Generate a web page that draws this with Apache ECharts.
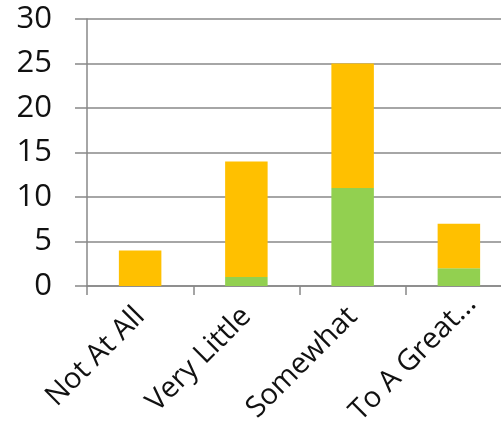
<!DOCTYPE html>
<html>
<head>
<meta charset="utf-8">
<script src="https://cdn.jsdelivr.net/npm/echarts@6/dist/echarts.min.js"></script>
<style>
  html, body { margin: 0; padding: 0; background: #fff; overflow: hidden; }
  #chart { width: 501px; height: 424px; }
</style>
</head>
<body>
<div id="chart"></div>
<script>
// Response categories along the x axis
const categories = ['Not At All', 'Very Little', 'Somewhat', 'To A Great...'];
// Stacked series: green segment at the bottom, orange on top
const greenValues = [0, 1, 11, 2];
const orangeValues = [4, 13, 14, 5];
// Value axis range
const yMin = 0;
const yMax = 30;
const yStep = 5;

const axisGray = '#888888';
const font = '"Open Sans", "DejaVu Sans", sans-serif';

// the shortened last label sits a little further along its slant
const categoryItems = categories.map((name, i) =>
  i === categories.length - 1
    ? { value: name, textStyle: { padding: [22, -18, 0, 0] } }
    : name
);

const chart = echarts.init(document.getElementById('chart'), null, { renderer: 'canvas' });
chart.setOption({
  animation: false,
  // the plot area deliberately runs past the right edge of the canvas
  grid: { left: 87, top: 19, width: 425, height: 267, containLabel: false, outerBoundsMode: 'none' },
  xAxis: {
    type: 'category',
    data: categoryItems,
    axisLine: { show: true, lineStyle: { color: axisGray, width: 1.5 } },
    axisTick: { show: true, length: 9, alignWithLabel: false, lineStyle: { color: axisGray, width: 1.5 } },
    axisLabel: {
      rotate: 45,
      interval: 0,
      margin: 26,
      padding: [17, 0, 0, 0],
      fontFamily: font,
      fontSize: 29,
      color: '#111111'
    },
    splitLine: { show: false }
  },
  yAxis: {
    type: 'value',
    min: yMin,
    max: yMax,
    interval: yStep,
    axisLine: { show: true, lineStyle: { color: axisGray, width: 1.5 } },
    axisTick: { show: true, length: 12, lineStyle: { color: axisGray, width: 1.5 } },
    axisLabel: {
      margin: 35,
      fontFamily: font,
      fontSize: 31,
      color: '#111111'
    },
    splitLine: { show: true, lineStyle: { color: axisGray, width: 1.5 } }
  },
  series: [
    {
      name: 'green',
      type: 'bar',
      stack: 'total',
      data: greenValues,
      barWidth: '40%',
      itemStyle: { color: '#92D050' }
    },
    {
      name: 'orange',
      type: 'bar',
      stack: 'total',
      data: orangeValues,
      barWidth: '40%',
      itemStyle: { color: '#FFC000' }
    }
  ]
});
</script>
</body>
</html>
